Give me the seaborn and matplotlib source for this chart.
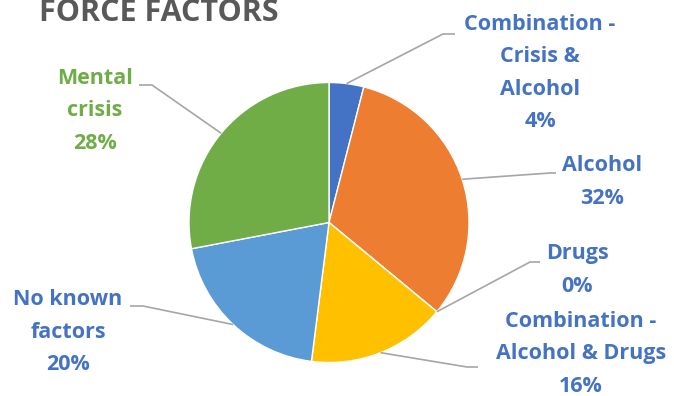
import matplotlib
matplotlib.use("Agg")
import matplotlib.pyplot as plt
import numpy as np
import seaborn as sns

# Data
categories = ["Combination -\nCrisis &\nAlcohol", "Alcohol", "Drugs",
              "Combination -\nAlcohol & Drugs", "No known\nfactors", "Mental\ncrisis"]
shares = [4, 32, 0, 16, 20, 28]
slice_colors = ["#4472C4", "#ED7D31", "#A5A5A5", "#FFC000", "#5B9BD5", "#70AD47"]
label_colors = ["#4472C4", "#4472C4", "#4472C4", "#4472C4", "#4472C4", "#70AD47"]
title = "FORCE FACTORS"

sns.set_theme(style="white")
plt.rcParams["font.family"] = ["Open Sans", "DejaVu Sans"]

W, H = 674, 396
fig = plt.figure(figsize=(W / 100, H / 100), dpi=100)
ax = fig.add_axes([0, 0, 1, 1])


def Y(y):
    # layout given top-down in pixels
    return H - y


cx, cy, R = 329, Y(222.5), 140
wedges, _ = ax.pie(shares, colors=slice_colors, startangle=90, counterclock=False,
                   center=(cx, cy), radius=R,
                   wedgeprops=dict(edgecolor="white", linewidth=1.0))

# elbow point, end of leader and text centre for each label
layout = [
    ((443, 34), (455, 34), (540, 73)),
    ((550, 173), (556, 173), (602, 182)),
    ((530, 262), (540, 262), (577, 270)),
    ((467, 367), (478, 367), (581, 354)),
    ((143, 306), (130, 306), (68, 332)),
    ((152, 85), (139, 85), (95, 111)),
]

for w, val, name, col, (elbow, end, tpos) in zip(wedges, shares, categories, label_colors, layout):
    mid = np.deg2rad((w.theta1 + w.theta2) / 2)
    x0 = w.center[0] + w.r * np.cos(mid)
    y0 = w.center[1] + w.r * np.sin(mid)
    ax.plot([x0, elbow[0], end[0]], [y0, Y(elbow[1]), Y(end[1])],
            color="#A6A6A6", lw=1.2, solid_capstyle="butt", zorder=1)
    ax.text(tpos[0], Y(tpos[1]), f"{name}\n{val}%", ha="center", va="center",
            multialignment="center", fontsize=15.5, fontweight="bold",
            color=col, linespacing=1.72)

fig.text(159 / W, Y(21) / H, title, ha="center", va="baseline",
         fontsize=22, fontweight="bold", color="#595959")

ax.set_xlim(0, W)
ax.set_ylim(0, H)
ax.set_aspect("equal")
ax.axis("off")
fig.savefig("out.png", dpi=100)
